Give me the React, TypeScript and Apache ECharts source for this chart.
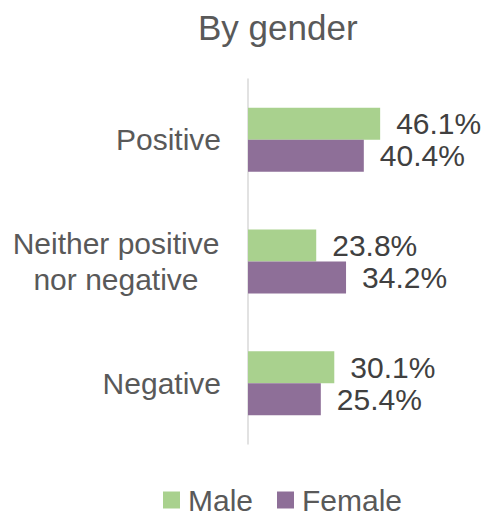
import React, { useEffect, useRef } from "react";
import * as echarts from "echarts";

const categories = ["Positive", "Neither positive\nnor negative", "Negative"];
const maleValues = [46.1, 23.8, 30.1];
const femaleValues = [40.4, 34.2, 25.4];
const seriesNames = ["Male", "Female"];

const FONT = "'Liberation Sans', Arial, sans-serif";

export default function App() {
  const ref = useRef<HTMLDivElement>(null);
  useEffect(() => {
    if (!ref.current) return;
    const chart = echarts.init(ref.current, undefined, { renderer: "svg" });
    const labelStyle = {
      show: true,
      position: "right" as const,
      distance: 16,
      fontSize: 30,
      fontFamily: FONT,
      color: "#404040",
      formatter: (p: any) => p.value.toFixed(1) + "%",
    };
    chart.setOption({
      animation: false,
      backgroundColor: "#ffffff",
      title: {
        text: "By gender",
        left: 193,
        top: 5,
        textStyle: { fontSize: 35, fontWeight: "normal", color: "#595959", fontFamily: FONT },
      },
      legend: {
        data: seriesNames,
        top: 480,
        left: 158,
        icon: "rect",
        itemWidth: 17,
        itemHeight: 17,
        itemGap: 24,
        textStyle: { fontSize: 30, color: "#595959", fontFamily: FONT, padding: [0, 0, 0, 3] },
      },
      grid: { left: 248, top: 79, width: 172, height: 365, containLabel: false },
      xAxis: {
        type: "value",
        min: 0,
        max: 60,
        show: false,
      },
      yAxis: {
        type: "category",
        data: categories,
        inverse: true,
        axisLine: { show: true, lineStyle: { color: "#d9d9d9", width: 1.5 } },
        axisTick: { show: false },
        axisLabel: {
          margin: 27,
          fontSize: 30,
          lineHeight: 36,
          color: "#595959",
          fontFamily: FONT,
          align: "right",
          formatter: (v: string) => {
            const lines = v.split("\n");
            if (lines.length === 1) return v;
            return lines.map((l) => "{m|" + l + "}").join("\n");
          },
          rich: {
            m: {
              width: 210,
              align: "center",
              fontSize: 30,
              lineHeight: 36,
              color: "#595959",
              fontFamily: FONT,
            },
          },
        },
      },
      series: [
        {
          name: seriesNames[0],
          type: "bar",
          data: maleValues,
          barWidth: 32,
          barGap: "0%",
          itemStyle: { color: "#a9d18e" },
          label: labelStyle,
        },
        {
          name: seriesNames[1],
          type: "bar",
          data: femaleValues,
          barWidth: 32,
          barGap: "0%",
          itemStyle: { color: "#8e6f98" },
          label: labelStyle,
        },
      ],
    });
    return () => chart.dispose();
  }, []);
  return (
    <div
      ref={ref}
      style={{ position: "fixed", left: 0, top: 0, width: 485, height: 518 }}
    />
  );
}
